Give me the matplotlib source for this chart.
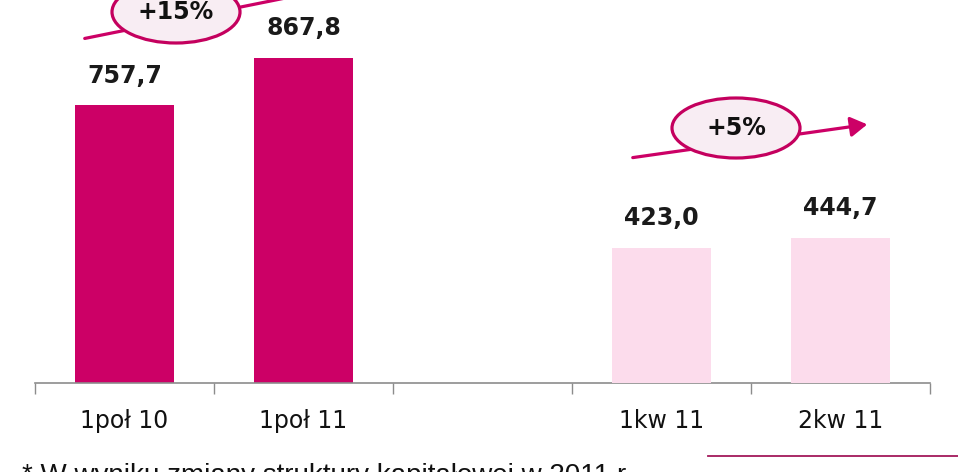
import matplotlib
matplotlib.use("Agg")
import matplotlib.pyplot as plt
from matplotlib.patches import Ellipse, FancyArrowPatch
from matplotlib.lines import Line2D

# ---- data ----
categories = ["1poł 10", "1poł 11", "", "1kw 11", "2kw 11"]
half_values = [757.7, 867.8]          # half-year bars (positions 0, 1)
quarter_values = [423.0, 444.7]       # quarter bars (positions 3, 4)
half_labels = ["757,7", "867,8"]
quarter_labels = ["423,0", "444,7"]
growth_labels = ["+15%", "+5%"]
footnote = "* W wyniku zmiany struktury kapitałowej w 2011 r."

W, H = 958, 472
DARK = "#CC0066"
LIGHT = "#FCDCEC"
ELL_FILL = "#F8EDF3"
ELL_EDGE = "#C4005E"

fig = plt.figure(figsize=(W / 100, H / 100), dpi=100)
fig.patch.set_facecolor("white")

def fx(px):
    return px / W

def fy(py):
    return 1 - py / H

ax_left, ax_right_px, ax_bottom_px = 35, 930, 383
ax = fig.add_axes([fx(ax_left), fy(ax_bottom_px), fx(ax_right_px - ax_left), ax_bottom_px / H])
ax2 = ax.twinx()

half_pos = [0, 1]
quarter_pos = [3, 4]
bw = 0.55

ax.bar(half_pos, half_values, width=bw, color=DARK, zorder=2)
ax2.bar(quarter_pos, quarter_values, width=bw, color=LIGHT, zorder=2)

ax.set_xlim(-0.5, 4.5)
ax.set_ylim(110.6, 1002)
ax2.set_ylim(129.5, 960)

lab_font = dict(fontsize=17, fontweight="bold", color="#1a1a1a", family="DejaVu Sans")
for p, v, t in zip(half_pos, half_values, half_labels):
    ax.annotate(t, (p, v), xytext=(0, 21), textcoords="offset points",
                ha="center", va="center", **lab_font)
for p, v, t in zip(quarter_pos, quarter_values, quarter_labels):
    ax2.annotate(t, (p, v), xytext=(0, 21), textcoords="offset points",
                 ha="center", va="center", **lab_font)

for a in (ax, ax2):
    for s in ("top", "left", "right"):
        a.spines[s].set_visible(False)
    a.set_yticks([])
ax2.spines["bottom"].set_visible(False)
ax2.tick_params(axis="both", which="both", length=0, labelright=False)

ax.spines["bottom"].set_color("#8c8c8c")
ax.spines["bottom"].set_linewidth(1.2)
ax.set_xticks(range(len(categories)))
ax.set_xticklabels(categories, family=["Liberation Sans Narrow", "DejaVu Sans"],
                   fontsize=17, color="#111111")
ax.tick_params(axis="x", which="major", length=0, pad=19)
ax.set_xticks([i - 0.5 for i in range(len(categories) + 1)], minor=True)
ax.tick_params(axis="x", which="minor", length=8, width=1.0, color="#8c8c8c", direction="out")

# ---- growth annotations ----
def arrow(x0, y0, x1, y1):
    fa = FancyArrowPatch((fx(x0), fy(y0)), (fx(x1), fy(y1)), transform=fig.transFigure,
                         arrowstyle="-|>,head_length=10,head_width=6", color=DARK,
                         lw=2.3, mutation_scale=1, zorder=5)
    fig.add_artist(fa)

def bubble(cx, cy, w, h, text):
    e = Ellipse((fx(cx), fy(cy)), w / W, h / H, transform=fig.transFigure,
                facecolor=ELL_FILL, edgecolor=ELL_EDGE, lw=2.3, zorder=6)
    fig.add_artist(e)
    fig.text(fx(cx), fy(cy), text, ha="center", va="center", zorder=7,
             fontsize=17, fontweight="bold", color="#111111", family="DejaVu Sans")

arrow(82, 39, 345, -14)
bubble(176, 12, 128, 62, growth_labels[0])

arrow(630, 158, 870, 124)
bubble(736, 128, 128, 60, growth_labels[1])

# ---- footnote and decorative line ----
fig.text(fx(22), fy(483), footnote, ha="left", va="baseline",
         fontsize=20, family="Liberation Sans", color="#111111")
fig.add_artist(Line2D([fx(708), fx(958)], [fy(456), fy(456)], transform=fig.transFigure,
                      color="#A3195B", lw=1.3))

fig.savefig("out.png", dpi=100, facecolor="white")
